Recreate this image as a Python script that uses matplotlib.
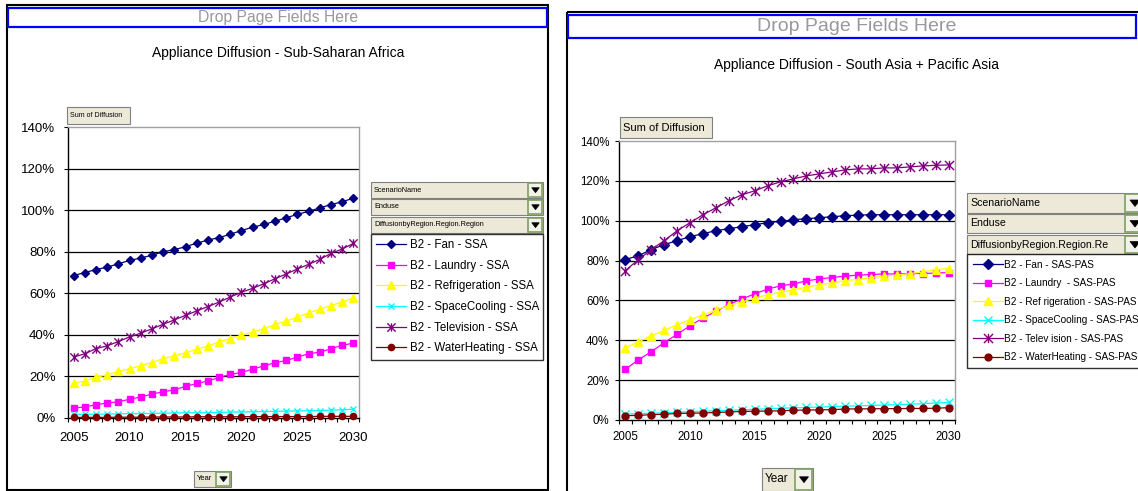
import numpy as np
import matplotlib
matplotlib.use("Agg")
import matplotlib.pyplot as plt
from matplotlib.patches import Rectangle, Polygon
from matplotlib.path import Path

plt.rcParams['font.family'] = ['Liberation Sans', 'DejaVu Sans']

#######  data (percent)

years = list(range(2005, 2031))

ssa_fan = [68.5, 70.0, 71.4, 72.6, 74.2, 75.8, 77.0, 78.3, 80.0, 81.0, 82.4, 84.1, 85.6, 86.8,
           88.4, 90.2, 91.8, 93.1, 94.7, 96.3, 98.0, 99.4, 101.1, 102.7, 104.0, 105.8]
ssa_laundry = [4.8, 5.3, 6.4, 7.2, 7.8, 9.0, 10.1, 11.5, 12.6, 13.6, 15.2, 16.6, 17.8, 19.5,
               21.0, 21.9, 23.5, 25.1, 26.6, 27.7, 29.3, 30.9, 31.7, 33.3, 35.0, 36.0]
ssa_refrig = [16.8, 17.8, 19.5, 20.8, 22.4, 23.7, 25.1, 26.7, 28.5, 29.9, 31.4, 33.1, 34.6, 36.6,
              38.2, 39.8, 41.4, 42.9, 45.0, 46.6, 48.5, 50.6, 52.3, 54.1, 55.8, 57.8]
ssa_cooling = [1.7, 1.8, 1.8, 1.9, 2.0, 2.1, 2.1, 2.2, 2.3, 2.4, 2.5, 2.5, 2.6, 2.7,
               2.8, 2.9, 3.0, 3.1, 3.2, 3.3, 3.4, 3.5, 3.6, 3.8, 3.9, 4.3]
ssa_tv = [29.3, 30.9, 33.4, 34.7, 36.8, 39.0, 40.8, 42.9, 45.1, 47.2, 49.4, 51.5, 53.6, 55.8,
          58.2, 60.5, 62.4, 64.6, 67.0, 69.3, 71.7, 73.9, 76.3, 79.2, 81.3, 84.0]
ssa_water = [0.3, 0.3, 0.3, 0.3, 0.4, 0.4, 0.4, 0.5, 0.5, 0.5, 0.5, 0.6, 0.6, 0.6,
             0.6, 0.6, 0.7, 0.7, 0.7, 0.7, 0.7, 0.7, 0.8, 0.8, 0.8, 0.8]

sas_fan = [80.5, 82.5, 85.5, 88.0, 90.0, 92.0, 93.5, 95.0, 96.0, 97.0, 98.0, 99.0, 99.7, 100.5,
           101.0, 101.5, 102.0, 102.5, 102.8, 103.0, 103.0, 103.0, 103.0, 103.0, 103.0, 103.0]
sas_laundry = [25.5, 30.2, 34.3, 38.8, 43.0, 47.3, 51.2, 54.5, 58.0, 60.7, 63.3, 65.7, 67.3, 68.3,
               69.8, 70.8, 71.5, 72.2, 72.7, 73.0, 73.3, 73.3, 73.5, 73.5, 73.7, 74.0]
sas_refrig = [36.3, 39.2, 42.2, 45.0, 47.8, 50.3, 52.7, 55.2, 57.5, 59.2, 61.2, 62.8, 64.2, 65.3,
              66.7, 67.8, 68.8, 70.0, 70.5, 71.5, 72.2, 72.7, 73.5, 74.2, 75.5, 76.0]
sas_cooling = [3.0, 3.2, 3.4, 3.6, 3.9, 4.2, 4.4, 4.6, 4.9, 5.1, 5.4, 5.6, 5.9, 6.1,
               6.3, 6.5, 6.7, 6.9, 7.1, 7.3, 7.5, 7.7, 7.9, 8.2, 8.5, 8.8]
sas_tv = [75.0, 80.5, 85.5, 90.0, 95.0, 99.0, 103.0, 106.5, 110.0, 113.0, 115.0, 117.5, 119.5, 121.0,
          122.5, 123.5, 124.5, 125.5, 126.0, 126.0, 126.5, 126.5, 127.0, 127.5, 127.8, 128.0]
sas_water = [2.2, 2.3, 2.7, 2.9, 3.3, 3.4, 3.5, 3.8, 4.0, 4.3, 4.4, 4.5, 4.6, 4.9,
             5.0, 5.1, 5.2, 5.5, 5.6, 5.6, 5.7, 5.7, 5.8, 5.8, 5.9, 6.2]

ssa_labels = ['B2 - Fan - SSA', 'B2 - Laundry - SSA', 'B2 - Refrigeration - SSA',
              'B2 - SpaceCooling - SSA', 'B2 - Television - SSA', 'B2 - WaterHeating - SSA']
sas_labels = ['B2 - Fan - SAS-PAS', 'B2 - Laundry  - SAS-PAS', 'B2 - Ref rigeration - SAS-PAS',
              'B2 - SpaceCooling - SAS-PAS', 'B2 - Telev ision - SAS-PAS', 'B2 - WaterHeating - SAS-PAS']

#######  style

W, H = 1138, 491

asterisk = Path([(0, -1), (0, 1), (-1, -1), (1, 1), (-1, 1), (1, -1)],
                [Path.MOVETO, Path.LINETO] * 3)

colors = ['#000080', '#FF00FF', '#FFFF00', '#00FFFF', '#800080', '#800000']
markers = ['D', 's', '^', 'x', asterisk, 'o']
msizes = [4.5, 4.5, 5.5, 5, 6, 4.5]


def fbox(x0, y0, x1, y1):
    return [x0 / W, 1 - y1 / H, (x1 - x0) / W, (y1 - y0) / H]


def draw_chart(ax, series, labels, tick_fs, ypad, xpad, ms_scale):
    lines = []
    for vals, lab, c, m, s in zip(series, labels, colors, markers, msizes):
        ln, = ax.plot(years, np.array(vals) / 100.0, color=c, lw=0.9, marker=m,
                      markersize=s * ms_scale, markerfacecolor=c, markeredgecolor=c,
                      markeredgewidth=1.0, label=lab, clip_on=False, zorder=3)
        lines.append(ln)
    ax.set_xlim(2004.5, 2030.5)
    ax.set_ylim(0, 1.4)
    yt = np.arange(0, 1.41, 0.2)
    ax.set_yticks(yt)
    ax.set_yticklabels(['%d%%' % round(v * 100) for v in yt], fontsize=tick_fs)
    ax.set_xticks([2005, 2010, 2015, 2020, 2025, 2030])
    ax.set_xticklabels(['2005', '2010', '2015', '2020', '2025', '2030'], fontsize=tick_fs)
    ax.set_xticks(np.arange(2004.5, 2031, 1.0), minor=True)
    ax.tick_params(axis='x', which='major', length=0, pad=xpad)
    ax.tick_params(axis='x', which='minor', length=3, width=0.8, direction='out')
    ax.tick_params(axis='y', length=3, width=0.8, direction='out', pad=ypad)
    for v in yt[1:-1]:
        ax.axhline(v, color='black', lw=0.9, zorder=1)
    ax.spines['left'].set_color('black')
    ax.spines['bottom'].set_color('black')
    ax.spines['top'].set_color('#A0A0A0')
    ax.spines['right'].set_color('#A0A0A0')
    for sp in ax.spines.values():
        sp.set_linewidth(1.0)
    return lines


def button(ov, x0, y0, x1, y1, label, fs, arrow_x=None):
    ov.add_patch(Rectangle((x0, y0), x1 - x0, y1 - y0, facecolor='#ECE9D8',
                           edgecolor='#808080', lw=0.8, zorder=4))
    ov.text(x0 + 3, (y0 + y1) / 2, label, fontsize=fs, ha='left', va='center', zorder=5)
    if arrow_x is not None:
        ov.add_patch(Rectangle((arrow_x, y0 + 1), x1 - arrow_x - 1, y1 - y0 - 2,
                               facecolor='#F2F1EA', edgecolor='#7F9F60', lw=1.2, zorder=6))
        cx = (arrow_x + x1) / 2
        cy = (y0 + y1) / 2
        hw = (x1 - arrow_x) * 0.25
        ov.add_patch(Polygon([(cx - hw, cy - hw * 0.6), (cx + hw, cy - hw * 0.6), (cx, cy + hw * 0.7)],
                             closed=True, facecolor='black', edgecolor='black', lw=0.5, zorder=7))


fig = plt.figure(figsize=(W / 100, H / 100), dpi=100)

ax1 = fig.add_axes(fbox(68, 127, 359, 418))
l1 = draw_chart(ax1, [ssa_fan, ssa_laundry, ssa_refrig, ssa_cooling, ssa_tv, ssa_water],
                ssa_labels, 9.5, 6, 10, 1.0)

ax2 = fig.add_axes(fbox(619, 141, 955, 420))
l2 = draw_chart(ax2, [sas_fan, sas_laundry, sas_refrig, sas_cooling, sas_tv, sas_water],
                sas_labels, 8.3, 4, 8, 1.1)

# page frame, buttons, titles
ov = fig.add_axes([0, 0, 1, 1], zorder=3)
ov.set_xlim(0, W)
ov.set_ylim(H, 0)
ov.axis('off')

ov.add_patch(Rectangle((7, 5), 541, 485, fill=False, edgecolor='black', lw=1.5))
ov.add_patch(Rectangle((8, 8), 539, 19, fill=False, edgecolor='#0000FF', lw=1.6))
ov.text(278, 17.5, 'Drop Page Fields Here', fontsize=11.3, color='#999999', ha='center', va='center')
ov.text(278, 53, 'Appliance Diffusion - Sub-Saharan Africa', fontsize=10, ha='center', va='center')

ov.add_patch(Rectangle((567, 12), 600, 500, fill=False, edgecolor='black', lw=1.5))
ov.add_patch(Rectangle((568, 15), 568, 23, fill=False, edgecolor='#0000FF', lw=1.6))
ov.text(857, 26.5, 'Drop Page Fields Here', fontsize=14, color='#999999', ha='center', va='center')
ov.text(857, 65, 'Appliance Diffusion - South Asia + Pacific Asia', fontsize=10, ha='center', va='center')

button(ov, 67, 107, 130, 124, 'Sum of Diffusion', 5)
button(ov, 194, 471, 231, 487, 'Year', 5.5, arrow_x=216)
button(ov, 371, 182, 543, 198, 'ScenarioName', 5.3, arrow_x=528)
button(ov, 371, 199, 543, 215, 'Enduse', 5.3, arrow_x=528)
button(ov, 371, 217, 543, 233, 'DiffusionbyRegion.Region.Region', 5.3, arrow_x=528)

button(ov, 620, 117, 712, 138, 'Sum of Diffusion', 8)
button(ov, 762, 468, 813, 491, 'Year', 8.5, arrow_x=795)
button(ov, 967, 193, 1145, 213, 'ScenarioName', 7.6, arrow_x=1125)
button(ov, 967, 214, 1145, 233, 'Enduse', 7.6, arrow_x=1125)
button(ov, 967, 235, 1145, 254, 'DiffusionbyRegion.Region.Re', 7.6, arrow_x=1125)

# legends
leg1 = fig.legend(handles=l1, labels=ssa_labels, loc='upper left', mode='expand',
                  bbox_to_anchor=fbox(371, 234, 543, 359), borderaxespad=0,
                  fontsize=8.3, frameon=True, fancybox=False, edgecolor='black',
                  handlelength=2.6, handletextpad=0.3, labelspacing=0.75, borderpad=0.45)
leg1.get_frame().set_linewidth(1.0)

leg2 = fig.legend(handles=l2, labels=sas_labels, loc='upper left', mode='expand',
                  bbox_to_anchor=fbox(967, 254, 1160, 368), borderaxespad=0,
                  fontsize=7.2, frameon=True, fancybox=False, edgecolor='black',
                  handlelength=3.0, handletextpad=0.2, labelspacing=0.86, borderpad=0.55)
leg2.get_frame().set_linewidth(1.0)

fig.savefig('out.png', dpi=100)
